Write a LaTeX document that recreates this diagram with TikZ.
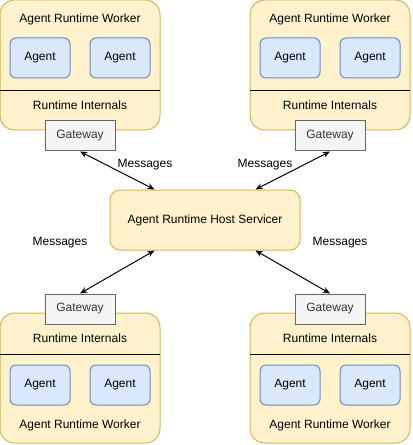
\documentclass[tikz,border=0pt]{standalone}
\usepackage{fontspec}
\setmainfont{Liberation Sans}
\usepackage{xcolor}
\usetikzlibrary{shapes,arrows.meta,positioning,calc}
\definecolor{workerfill}{HTML}{FFF2CC}
\definecolor{workerdraw}{HTML}{D6B656}
\definecolor{agentfill}{HTML}{DAE8FC}
\definecolor{agentdraw}{HTML}{6C8EBF}
\definecolor{gwfill}{HTML}{F5F5F5}
\definecolor{gwdraw}{HTML}{666666}
\definecolor{gwtext}{HTML}{333333}
\tikzstyle{worker} = [draw=workerdraw, fill=workerfill, rounded corners=11pt, minimum width=120pt, minimum height=97.5pt, inner sep=0pt]
\tikzstyle{agent} = [draw=agentdraw, fill=agentfill, rounded corners=4.5pt, minimum width=45pt, minimum height=30pt, inner sep=0pt]
\tikzstyle{gateway} = [draw=gwdraw, fill=gwfill, text=gwtext, minimum width=52.5pt, minimum height=22.5pt, inner sep=0pt]
\tikzstyle{host} = [worker, rounded corners=7.5pt, minimum width=142.5pt, minimum height=45pt]
\tikzstyle{arrow} = [<->, >={Stealth[length=5.5pt,width=4.5pt]}]

\begin{document}
\begin{tikzpicture}[x=0.75pt, y=-0.75pt, line width=0.75pt, every node/.style={font=\fontsize{9pt}{11pt}\selectfont}]
        \useasboundingbox (0,0) rectangle (412,445);

        % top left worker
        \node[worker] (wA) at (80,65) {};
        \node (tA) at (80,19) {Agent Runtime Worker};
        \node[agent] (aA1) at (40,58) {Agent};
        \node[agent] (aA2) at (120,58) {Agent};
        \draw (0,91) -- (160,91);
        \node (iA) at (80,105) {Runtime Internals};
        \node[gateway] (gA) at (80,136) {Gateway};

        % top right worker
        \node[worker] (wB) at (330,65) {};
        \node (tB) at (330,19) {Agent Runtime Worker};
        \node[agent] (aB1) at (290,58) {Agent};
        \node[agent] (aB2) at (370,58) {Agent};
        \draw (250,91) -- (410,91);
        \node (iB) at (330,105) {Runtime Internals};
        \node[gateway] (gB) at (330,136) {Gateway};

        % bottom left worker
        \node[worker] (wC) at (80,378) {};
        \node[gateway] (gC) at (80,309) {Gateway};
        \node (iC) at (80,338) {Runtime Internals};
        \draw (0,354) -- (160,354);
        \node[agent] (aC1) at (40,385) {Agent};
        \node[agent] (aC2) at (120,385) {Agent};
        \node (tC) at (80,425) {Agent Runtime Worker};

        % bottom right worker
        \node[worker] (wD) at (330,378) {};
        \node[gateway] (gD) at (330,309) {Gateway};
        \node (iD) at (330,338) {Runtime Internals};
        \draw (250,354) -- (410,354);
        \node[agent] (aD1) at (290,385) {Agent};
        \node[agent] (aD2) at (370,385) {Agent};
        \node (tD) at (330,425) {Agent Runtime Worker};

        % host servicer
        \node[host] (host) at (205,220) {Agent Runtime Host Servicer};
        \coordinate (hA) at ($(host.north west)+(45,0)$);
        \coordinate (hB) at ($(host.north east)+(-45,0)$);
        \coordinate (hC) at ($(host.south west)+(45,0)$);
        \coordinate (hD) at ($(host.south east)+(-45,0)$);

        \draw[arrow] (gA.south) -- (hA);
        \draw[arrow] (gB.south) -- (hB);
        \draw[arrow] (gC.north) -- (hC);
        \draw[arrow] (gD.north) -- (hD);

        \node (mA) at (145,165) {Messages};
        \node (mB) at (265,165) {Messages};
        \node (mC) at (60,243) {Messages};
        \node (mD) at (340,243) {Messages};
    \end{tikzpicture}
\end{document}
